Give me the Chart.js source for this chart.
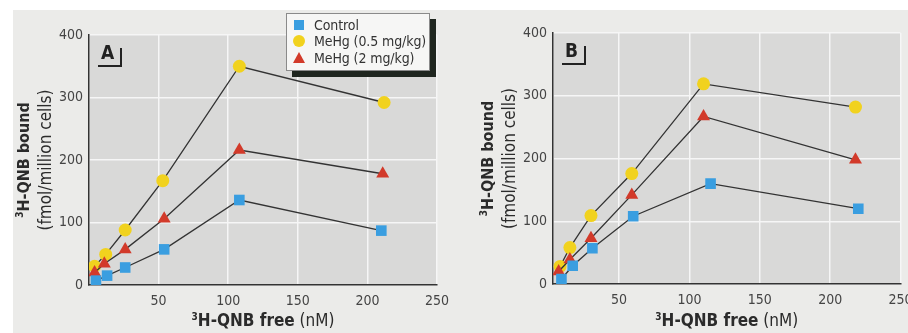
<!DOCTYPE html>
<html>
<head>
<meta charset="utf-8">
<script src="https://cdn.jsdelivr.net/npm/chart.js@4.4.1/dist/chart.umd.min.js"></script>
<style>
  html, body { margin: 0; padding: 0; background: #ffffff; }
  #page { position: relative; width: 908px; height: 333px; overflow: hidden; }
  #paper { position: absolute; left: 13px; top: 10px; width: 895px; height: 323px; background: #ebebe9; }
  canvas { position: absolute; top: 0; }
  #cA { left: 0; }
  #cB { left: 454px; }
  #legend {
    position: absolute; left: 286px; top: 13px; width: 142px; height: 56px;
    background: #f6f6f5; border: 1px solid #8a8a8a;
    box-shadow: 6px 6px 0 #1f261f;
    font-family: 'Liberation Sans Narrow', 'DejaVu Sans Condensed', sans-serif;
    font-size: 14px; letter-spacing: -0.1px; color: #333;
  }
  .row { position: absolute; left: 0; height: 16px; line-height: 16px; }
  .row span.t { position: absolute; left: 27px; white-space: nowrap; }
  .sym { position: absolute; }
  .sq { left: 7px; top: 3px; width: 10px; height: 10px; background: #3a9ee0; }
  .ci { left: 6px; top: 2px; width: 12px; height: 12px; border-radius: 50%; background: #f1d21e; }
  .tr { left: 6px; top: 2px; width: 0; height: 0; border-left: 6px solid transparent; border-right: 6px solid transparent; border-bottom: 11px solid #d23a2a; }
</style>
</head>
<body>
<div id="page">
  <div id="paper"></div>
  <canvas id="cA" width="454" height="333"></canvas>
  <canvas id="cB" width="454" height="333"></canvas>
  <div id="legend">
    <div class="row" style="top:3px"><div class="sym sq"></div><span class="t" id="l0"></span></div>
    <div class="row" style="top:19px"><div class="sym ci"></div><span class="t" id="l1"></span></div>
    <div class="row" style="top:36px"><div class="sym tr"></div><span class="t" id="l2"></span></div>
  </div>
</div>
<script>
// series names
const seriesNames = ['Control', 'MeHg (0.5 mg/kg)', 'MeHg (2 mg/kg)'];

// axis ticks
const xTicks = [50, 100, 150, 200, 250];
const yTicks = [0, 100, 200, 300, 400];

// panel A  (x = free nM, y = bound fmol/million cells)
const aCtrlX = [5, 13, 26, 54, 108, 210];
const aCtrlY = [7, 15, 28, 57, 136, 87];
const aLowX  = [4, 12, 26, 53, 108, 212];
const aLowY  = [30, 49, 88, 167, 350, 292];
const aHighX = [4, 11, 26, 54, 108, 211];
const aHighY = [20, 34, 57, 106, 216, 178];

// panel B
const bCtrlX = [9, 17, 31, 60, 115, 220];
const bCtrlY = [8, 29, 57, 108, 160, 120];
const bLowX  = [8, 15, 30, 59, 110, 218];
const bLowY  = [28, 58, 109, 176, 319, 282];
const bHighX = [7, 15, 30, 59, 110, 218];
const bHighY = [20, 39, 73, 142, 267, 198];

const NARROW = "'Liberation Sans Narrow', 'DejaVu Sans Condensed', sans-serif";

seriesNames.forEach((n, i) => document.getElementById('l' + i).textContent = n);

function pts(xs, ys) { return xs.map((x, i) => ({ x: x, y: ys[i] })); }

// draw a row of text pieces with different fonts, centred on (cx, cy)
function drawRich(ctx, parts, cx, cy, rot) {
  ctx.save();
  ctx.translate(cx, cy);
  if (rot) ctx.rotate(rot);
  let w = 0;
  parts.forEach(p => { ctx.font = p.font; w += ctx.measureText(p.text).width; });
  let x = -w / 2;
  ctx.textBaseline = 'middle';
  ctx.fillStyle = '#2b2b2b';
  parts.forEach(p => {
    ctx.font = p.font;
    ctx.fillText(p.text, x, p.dy || 0);
    x += ctx.measureText(p.text).width;
  });
  ctx.restore();
}

function makePanel(id, letter, area, xMin, ctrl, low, high) {
  const decor = {
    id: 'decor' + letter,
    beforeDraw(chart) {
      const { ctx, chartArea: a } = chart;
      ctx.save();
      ctx.fillStyle = '#d9d9d8';
      ctx.fillRect(a.left, a.top, a.right - a.left, a.bottom - a.top);
      ctx.restore();
    },
    afterDraw(chart) {
      const { ctx, chartArea: a } = chart;
      // panel letter with bracket
      ctx.save();
      ctx.font = 'bold 19px ' + NARROW;
      ctx.fillStyle = '#222';
      ctx.textBaseline = 'alphabetic';
      ctx.fillText(letter, a.left + 12, a.top + 24);
      const bx = a.left + 32, by = a.top + 31;
      ctx.strokeStyle = '#222';
      ctx.lineWidth = 2;
      ctx.beginPath();
      ctx.moveTo(bx, a.top + 13);
      ctx.lineTo(bx, by);
      ctx.lineTo(a.left + 9, by);
      ctx.stroke();
      ctx.restore();
      // axis titles
      const midY = (a.top + a.bottom) / 2;
      drawRich(ctx, [
        { text: '3', font: 'bold 10px ' + NARROW, dy: -5 },
        { text: 'H-QNB bound', font: 'bold 16px ' + NARROW }
      ], a.left - 64, midY, -Math.PI / 2);
      drawRich(ctx, [
        { text: '(fmol/million cells)', font: '17px ' + NARROW }
      ], a.left - 42, midY, -Math.PI / 2);
      drawRich(ctx, [
        { text: '3', font: 'bold 10px ' + NARROW, dy: -5 },
        { text: 'H-QNB free', font: 'bold 17px ' + NARROW },
        { text: ' (nM)', font: '17px ' + NARROW }
      ], (a.left + a.right) / 2, 322, 0);
    }
  };

  const lineStyle = { borderColor: '#333333', borderWidth: 1.3, showLine: true, pointBorderWidth: 0 };

  new Chart(document.getElementById(id), {
    type: 'scatter',
    data: {
      datasets: [
        Object.assign({ label: seriesNames[0], data: pts(ctrl[0], ctrl[1]), pointStyle: 'rect', pointRadius: 7.5,
          pointBackgroundColor: '#3a9ee0', pointBorderColor: '#3a9ee0' }, lineStyle),
        Object.assign({ label: seriesNames[2], data: pts(high[0], high[1]), pointStyle: 'triangle', pointRadius: 7.5,
          pointBackgroundColor: '#d23a2a', pointBorderColor: '#d23a2a' }, lineStyle),
        Object.assign({ label: seriesNames[1], data: pts(low[0], low[1]), pointStyle: 'circle', pointRadius: 6.5,
          pointBackgroundColor: '#f1d21e', pointBorderColor: '#f1d21e' }, lineStyle)
      ]
    },
    options: {
      responsive: false,
      animation: false,
      devicePixelRatio: 1,
      layout: { padding: { left: 0, top: area.top, right: 454 - area.right, bottom: 0 } },
      plugins: { legend: { display: false }, tooltip: { enabled: false } },
      scales: {
        x: {
          type: 'linear', min: xMin, max: 250,
          afterBuildTicks: s => { s.ticks = [{ value: xMin }].concat(xTicks.map(v => ({ value: v }))); },
          afterFit: s => { s.height = 333 - area.bottom; s.paddingLeft = 0; s.paddingRight = 0; },
          ticks: { callback: v => xTicks.includes(v) ? v : '', padding: 8, maxRotation: 0, autoSkip: false,
            font: { family: NARROW, size: 14 }, color: '#444' },
          grid: { color: '#f6f6f6', lineWidth: 1.5, drawTicks: false },
          border: { display: true, color: '#333', width: 1.5 }
        },
        y: {
          type: 'linear', min: 0, max: 400,
          afterBuildTicks: s => { s.ticks = yTicks.map(v => ({ value: v })); },
          afterFit: s => { s.width = area.left; s.paddingTop = 0; s.paddingBottom = 0; },
          ticks: { padding: 6, font: { family: NARROW, size: 14 }, color: '#444' },
          grid: { color: '#f6f6f6', lineWidth: 1.5, drawTicks: false },
          border: { display: true, color: '#333', width: 1.5 }
        }
      }
    },
    plugins: [decor]
  });
}

makePanel('cA', 'A', { left: 89, right: 437, top: 35, bottom: 285 }, 0,
  [aCtrlX, aCtrlY], [aLowX, aLowY], [aHighX, aHighY]);
makePanel('cB', 'B', { left: 99, right: 453, top: 33, bottom: 284 }, 3,
  [bCtrlX, bCtrlY], [bLowX, bLowY], [bHighX, bHighY]);
</script>
</body>
</html>
